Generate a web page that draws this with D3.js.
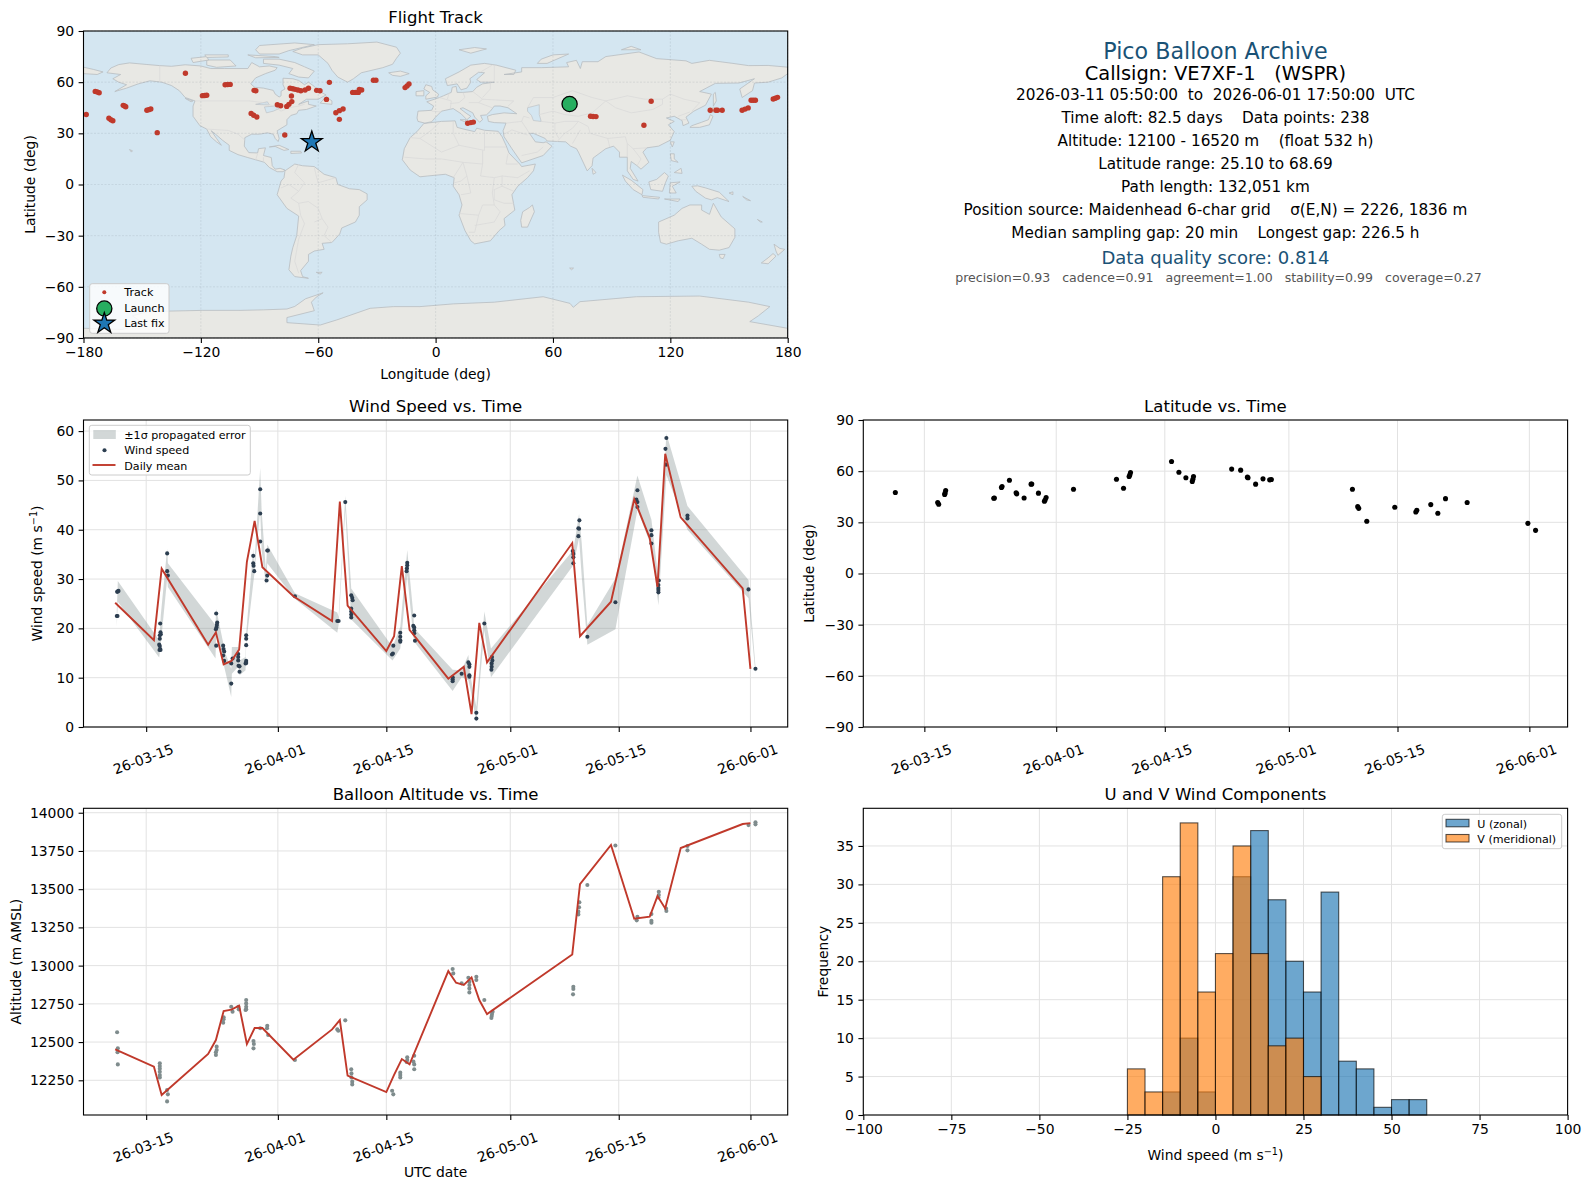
<!DOCTYPE html>
<html>
<head>
<meta charset="utf-8">
<title>Pico Balloon Archive</title>
<script src="https://cdn.jsdelivr.net/npm/d3@7"></script>
<style>
html, body { margin: 0; padding: 0; background: #fff; }
svg { display: block; }
text { font-family: "DejaVu Sans", sans-serif; fill: #000; }
</style>
</head>
<body>
<div id="chart"></div>
<script>
// ─── Data ─────────────────────────────────────────────────────
// All times are days relative to 2026-03-15 00:00 UTC

const trackLon = [-178.6,-174,-173,-172,-159.7,-159,-158.4,-167,-166,-165,-147.6,-146.6,-145.6,-142.3,-127.9,-119.2,-118,-117,-107.6,-106.3,-105,-92.8,-91.9,-94.3,-93,-91.4,-80.9,-79.2,-76.1,-75,-73.5,-73.7,-74.4,-73,-71.8,-70.4,-68.9,-66.7,-65,-60.8,-59.1,-54.3,-55.8,-51,-49.2,-47.3,-49.2,-77.1,-42.4,-41,-39.5,-37.8,-39,-31.8,-30.5,-15.6,-14.6,-13.6,16.4,18,19.3,79.2,80.5,82,106.5,110.2,140.4,143.3,144.1,146.5,156.7,158.2,159.8,161.3,162.4,163.5,172.6,173.7,174.8];
const trackLat = [41,54.6,54.2,53.8,46.4,46,45.6,38.8,38,37.4,43.5,43.9,44.3,30.4,65.2,52.1,52.2,52.3,58.5,58.6,58.7,55.2,55,41.7,40.6,39.6,46.8,46.2,45.8,47,48.6,51.9,56.4,56.1,55.8,55.4,55,55.4,56.4,55.2,55,59.9,49.9,42.1,43.3,44.3,38.2,29,54,54,54,55.4,55.8,61.1,61.1,56.8,57.8,58.9,35.9,36.3,36.6,40,39.9,39.8,34.7,48.8,43.5,43.5,43.5,43.5,43.5,44.2,44.9,49.4,49.4,49.4,50.1,50.6,51.1];
const launchLonLat = [68.5, 47.2];
const lastFixLonLat = [-63.3, 24.9];

const windDays = [-3.79,-3.7,-3.75,-3.66,-3.57,1.81,1.89,1.85,1.76,1.76,1.68,1.76,1.81,1.72,1.85,2.71,2.71,2.8,9.04,9.17,9.13,9.08,9,9.04,9.94,9.99,10.07,9.94,10.07,10.98,11.15,10.98,11.88,11.88,11.88,11.92,12.05,12.05,12.91,12.91,12.91,12.91,12.83,12.91,13.82,13.82,13.86,13.95,14.72,14.72,14.72,15.63,15.54,15.71,15.63,19.2,24.67,24.84,25.7,26.47,26.6,26.65,26.47,26.47,26.47,26.47,31.9,31.85,31.73,32.8,32.8,32.8,32.8,33.7,33.7,33.66,33.62,34.6,34.48,34.6,34.6,34.6,34.7,39.56,39.56,39.56,40.72,41.59,41.72,41.72,41.72,41.72,42.62,42.62,43.65,44.64,44.69,44.6,44.6,44.56,55.06,55.14,55.14,55.14,55.92,55.79,55.88,55.79,56.95,60.57,63.41,63.28,63.41,63.41,65.22,65.22,65.22,66.17,66.12,66.12,66.12,66.12,67.15,67.03,67.11,69.87,69.87,77.75,78.65];
const windSpeeds = [22.5,22.5,27.4,27.5,27.6,21,18.8,19.2,18.6,17.9,16.7,16.4,15.8,15.6,15.6,35.2,31.6,30.7,23,21.2,20.7,20.2,19.8,16.5,16.5,15.8,15.3,14.5,13.4,12.9,13.9,8.8,14.8,14.2,13.5,12.4,12.3,11.2,18.6,17.9,16.6,13.4,12.9,13,34.7,33.2,32.7,31.6,48.2,43.3,37.6,30.7,29.7,35.8,35.8,26.5,21.5,21.5,45.6,26.7,26.2,25.7,24,23.4,22.8,22.2,16.5,14.9,14.7,19.1,18.3,17.6,17.3,33.3,32.8,32.2,31.6,22.6,20.5,20.2,19.6,19,17.5,10.1,9.7,9.3,10.8,13.1,12.7,12.2,10.5,10.2,2.9,1.7,21,14.2,13.5,12.9,12.2,11.6,35.7,35.1,34.4,33.2,41.9,40.3,40.2,38.7,18.3,25.3,48,46.1,45.6,44.6,39.9,38.9,37.2,29.7,28.8,28.2,27.8,27.3,58.6,56.4,53.2,42.9,42.3,27.9,11.8];

const bandDays = [-3.79,-3.66,1.68,1.89,2.71,2.8,8.95,9.04,9.94,10.07,10.98,11.06,11.88,12.05,12.83,12.91,13.82,13.95,14.72,14.9,15.45,15.63,19.2,24.67,24.84,25.7,26.47,31.8,32.8,33.7,34.48,34.6,39.56,40.72,41.59,41.8,42.62,43.65,44.51,55.14,55.88,56.22,56.95,60.57,63.41,65.22,66.12,67.15,69.87,77.75,78.65];
const bandHigh = [23.7,29.6,17.6,22.7,36.2,33.2,20.7,24,17.1,15.6,11.8,16.2,16.2,13.5,14.2,19,36.2,32.5,52.5,44,31.8,37,27.1,23.2,22.3,46.9,28.1,16.2,20.3,35.9,23,20,11.6,11.5,14.6,10.8,4.1,23.4,15.9,35.9,43.2,37.3,20.7,30.1,51,42,30.1,59.5,44.8,29.8,12.2];
const bandLow = [20.4,25.4,14.1,16.9,30.1,28.4,13.9,19.3,13.9,12.2,6.1,10.8,12.2,10.5,11.5,16.9,29.1,30.8,44,35.9,28.8,33.2,26,19.1,20.7,44,21.8,13.5,15.9,30.8,18.3,17.3,7.3,10.1,9.5,8.1,1,19.6,10.1,32.8,38.3,30.5,16.7,19.8,44,36.6,24.7,51.1,40,26.1,10.8];

const dailyDays = [-4,1,2,8,9,10,11,12,13,14,15,19,24,25,26,31,32,33,34,39,40,41,42,43,44,55,56,60,63,65,66,67,69,77,78];
const dailyWind = [25.2,17.6,32.1,16.7,19.2,12.7,13.4,15.7,33.5,41.8,32.4,26.5,21.5,45.7,24.6,15.4,18.4,32.6,19.7,9.8,11,12.2,2.6,21.1,13.1,37.3,18.4,25.4,46.2,38.3,28.4,55.4,42.5,28.1,11.8];
const dailyAlt = [12452,12339,12154,12422,12513,12703,12712,12738,12487,12592,12592,12385,12583,12644,12280,12173,12285,12389,12354,12964,12888,12873,12923,12775,12683,13073,13533,13789,13307,13320,13455,13374,13769,13926,13932];

const altDays = [-3.75,-3.66,-3.7,-3.66,1.76,1.76,1.76,1.76,1.76,1.76,2.7,2.8,2.7,9.1,9.1,9,9,10,9.99,9.94,10.98,11.15,11.9,11.95,12.91,12.91,12.91,12.91,12.83,13.85,13.9,13.85,14.72,15.63,15.6,15.75,19.2,24.67,24.8,25.7,26.47,26.5,26.5,26.6,26.6,31.75,31.9,32.8,32.8,32.8,33.7,33.7,33.62,34.6,34.5,34.6,34.6,39.56,39.64,40.72,41.59,41.72,41.72,41.72,41.72,42.62,42.62,43.65,44.72,44.64,44.6,44.56,55.14,55.14,55.1,55.92,55.88,55.79,55.79,56.95,60.57,63.41,63.32,65.22,65.22,65.22,66.17,66.17,66.12,67.11,67.15,69.87,69.87,77.75,78.65,78.65];
const altValues = [12564,12459,12433,12354,12361,12343,12326,12306,12285,12269,12186,12158,12112,12470,12448,12433,12415,12662,12649,12627,12731,12699,12731,12714,12775,12753,12731,12714,12710,12507,12487,12459,12590,12607,12590,12546,12383,12583,12574,12642,12322,12295,12269,12241,12223,12182,12158,12300,12285,12269,12400,12383,12370,12411,12372,12354,12322,12978,12949,12884,12921,12895,12873,12851,12825,12927,12906,12775,12699,12683,12670,12657,12862,12847,12812,13414,13381,13353,13335,13527,13786,13320,13296,13337,13294,13281,13483,13462,13446,13374,13357,13782,13754,13919,13937,13924];

const latDays = [-3.74,1.72,1.85,2.67,2.75,2.62,9.03,8.95,10.02,9.94,10.97,11.91,11.83,12.86,13.85,13.76,14.71,15.7,15.57,15.48,19.23,24.77,25.68,26.58,26.49,26.4,31.87,32.82,33.72,34.7,34.62,34.54,39.62,40.78,41.73,41.65,42.71,43.66,44.52,44.74,55.19,55.87,56,57.04,60.65,63.49,63.36,65.29,66.2,67.19,69.98,77.81,78.8];
const latValues = [47.5,41.6,40.6,47.1,48.6,46.3,44.3,44.1,51,50.4,54.7,46.7,47.3,44.3,52.5,52.4,47.1,44.5,43.1,42.4,49.4,55.3,50,59.2,57.8,56.9,65.7,59.4,56.1,56.9,55.3,53.9,61.2,60.6,56.1,56.5,52.4,55.5,54.9,55.1,49.4,39.2,38.2,30.6,38.8,37.1,36.1,40.4,35.3,43.9,41.6,29.4,25.3];

const histStarts = d3.range(-100, 100, 5);
const histU = [0,0,0,0,0,0,0,0,0,0,0,0,0,0,0,0,0,3,10,3,0,31,37,28,20,16,29,7,6,1,2,2,0,0,0,0,0,0,0,0];
const histV = [0,0,0,0,0,0,0,0,0,0,0,0,0,0,0,6,3,31,38,16,21,35,21,9,10,5,0,0,0,0,0,0,0,0,0,0,0,0,0,0];

const timeTicks = ['2026-03-15','2026-04-01','2026-04-15','2026-05-01','2026-05-15','2026-06-01'];
const lonTicks = d3.range(-180, 181, 60);
const latTicks = d3.range(-90, 91, 30);
const windTicks = d3.range(0, 61, 10);
const altTicks = d3.range(12250, 14001, 250);
const histXTicks = d3.range(-100, 101, 25);
const histYTicks = d3.range(0, 36, 5);

const headerLines = [
    { text: 'Pico Balloon Archive', y: 58.5, size: 22.2, color: '#1a5276', dx: 0 },
    { text: 'Callsign: VE7XF-1   (WSPR)', y: 80, size: 19.45, color: '#000', dx: 0 },
    { text: '2026-03-11 05:50:00  to  2026-06-01 17:50:00  UTC', y: 100, size: 15.28, color: '#000', dx: 0 },
    { text: 'Time aloft: 82.5 days    Data points: 238', y: 123.2, size: 15.28, color: '#000', dx: 0 },
    { text: 'Altitude: 12100 - 16520 m    (float 532 h)', y: 146.2, size: 15.28, color: '#000', dx: 0 },
    { text: 'Latitude range: 25.10 to 68.69', y: 169.2, size: 15.28, color: '#000', dx: 0 },
    { text: 'Path length: 132,051 km', y: 192.2, size: 15.28, color: '#000', dx: 0 },
    { text: 'Position source: Maidenhead 6-char grid    σ(E,N) = 2226, 1836 m', y: 215.2, size: 15.28, color: '#000', dx: 0 },
    { text: 'Median sampling gap: 20 min    Longest gap: 226.5 h', y: 238.2, size: 15.28, color: '#000', dx: 0 },
    { text: 'Data quality score: 0.814', y: 263.5, size: 18.05, color: '#1a5276', dx: 0 },
    { text: 'precision=0.93   cadence=0.91   agreement=1.00   stability=0.99   coverage=0.27', y: 281.8, size: 12.55, color: '#555', dx: 3 }
];

// Coarse hand-read coastlines, [lon, lat]
const land = [
  // North America
  [[-168,65.5],[-166,68.3],[-162,70.3],[-156.5,71.3],[-148,70.4],[-141,69.7],[-135,69.3],[-128,70.2],[-120,69.5],[-115,68],[-108,68],[-102,68],[-96,68],[-94,71.5],[-90,69],[-85,69.5],[-81,68.5],[-82,67],[-87,65],[-92,62.5],[-94.5,59],[-92.5,57],[-88,56.5],[-83,55.2],[-82,53],[-80,51.3],[-79,52],[-79,54.7],[-77,56],[-78,58.5],[-78,62.3],[-73,62],[-70,61],[-67,58.5],[-65,60],[-62,57.5],[-60,55],[-56,52.5],[-60,50],[-66,50],[-70,47],[-65,49],[-65,47],[-61,46],[-66,44],[-70,43.5],[-71,41.5],[-74,40.5],[-76,38],[-76,35],[-81,31.5],[-80,27],[-80.5,25.2],[-82,27],[-83,29.5],[-86,30.3],[-90,29.5],[-94,29.5],[-97.5,27.5],[-97.8,22.5],[-95.5,18.7],[-91,18.5],[-90.5,21],[-87,21.5],[-88,17],[-84,15.8],[-83.5,11],[-82,9],[-79.5,9.5],[-77,8.5],[-78,7.5],[-81,7.5],[-85,10],[-87.5,13],[-92,14.5],[-96,15.8],[-101,17.5],[-105.5,20],[-105.5,23],[-109,26],[-112.5,29.5],[-114.7,31.5],[-112,27],[-109.5,23],[-112,25],[-115,28],[-117,32.5],[-120.5,34.5],[-124,40],[-124,46],[-123,49],[-128,51],[-131,55],[-135,58],[-140,60],[-146,60.8],[-152,59],[-158,56.5],[-164,54.5],[-158,58.5],[-162,60],[-165,62],[-161,64.5]],
  // Greenland
  [[-73,78],[-68,76],[-60,76],[-55,71],[-53,67],[-50,63],[-45,60],[-42,62],[-38,65.5],[-27,68.5],[-22,70.5],[-20,74],[-18,77],[-20,80.5],[-30,83.5],[-45,82.5],[-60,82],[-68,80]],
  // Canadian arctic
  [[-80,73.5],[-72,71.5],[-67,69],[-62,66.5],[-65,62.5],[-70,63],[-75,65],[-73,68],[-80,70],[-88,71],[-88,73.5]],
  [[-117,73],[-105,73],[-102,69.5],[-112,68.7],[-117,70]],
  [[-125,74],[-117,75],[-116,73],[-124,71.5]],
  [[-90,76.5],[-80,76.5],[-75,78.5],[-62,82],[-72,83],[-90,81.5],[-92,79]],
  [[-96,76],[-82,75],[-80,74.5],[-92,74.3]],
  [[-118,76],[-106,76],[-106,74.8],[-117,74.5]],
  [[-59,47.7],[-53,47],[-53,49],[-56,51.5],[-58,49]],
  // Caribbean, Hawaii
  [[-85,22],[-80,23],[-75,20.5],[-77.5,20],[-82,22.3]],
  [[-74,19.5],[-69,19.5],[-68.5,18.5],[-74,18.2]],
  [[-156.5,20.5],[-155,19.8],[-155.5,19]],
  [[-128,50.5],[-124,49],[-125,48.5]],
  // South America
  [[-77,8],[-72,12],[-68,11],[-62,10.5],[-57,6],[-51,4],[-50,0],[-44,-2.5],[-39,-3],[-35,-5.5],[-35,-9],[-39,-13],[-39,-18],[-41,-22],[-48,-25.5],[-49,-29],[-53,-34],[-58,-34.5],[-57,-38],[-62,-39],[-65,-41],[-65,-45],[-69,-50.5],[-68,-54],[-65,-55],[-72,-54],[-75,-50],[-74,-42],[-73,-37],[-71,-30],[-70,-18.5],[-76,-14],[-81,-6],[-80,-2],[-79,2],[-77.5,4]],
  [[-61,-51.5],[-58,-51.5],[-59,-52.5]],
  // Africa
  [[-6,35.8],[3,37],[10,37.3],[11,33.5],[15,32.3],[20,31],[21,33],[25,31.8],[32,31.2],[34,28],[36,23],[37.5,18.5],[43,12],[44,10.5],[51,12],[50,8],[47,4],[42,-1],[39,-6],[40.5,-15],[35,-20],[35.5,-24],[32.5,-27],[28,-33],[20,-34.8],[18,-33],[15,-27],[12,-18],[13.5,-12],[12,-6],[9,-1],[9.5,4],[5,6],[-4,5],[-8,4.5],[-13,8.5],[-17,14.5],[-16,21],[-13,27.5],[-9.5,31]],
  [[49.5,-12],[50.5,-16],[47,-25],[44,-25],[43.5,-21],[44.5,-16],[48,-13.5]],
  // Eurasia
  [[-9,37],[-9.5,39],[-9,43],[-2,43.5],[-1,46],[-4.5,48.5],[2,51],[4,52],[8,54],[8.5,57],[10.5,57.5],[11,54],[14,54],[19,54.5],[21,57],[24,59],[30,60],[23,60],[21,61.5],[25,65.5],[22,65.8],[17.5,62],[18,60],[16,56.5],[13,55.5],[11,59],[6,58],[5,62],[12,66],[18,70],[25,71],[31,70],[41,67],[40,64.5],[35,64.5],[44,66],[44,68.5],[54,68.5],[68,69],[67,71.5],[72,72.8],[74,68],[75,72],[83,72],[87,75],[104,77.7],[113,73.8],[128,72.5],[131,71],[140,72.8],[152,71],[160,69.7],[170,69.8],[180,68.8],[180,65],[177,62.5],[170,60],[163,59.5],[162,55],[156.7,51],[155.5,56],[163,62],[155,59.5],[143,59.3],[135,54.5],[141,53],[138,46.5],[132,43],[128,39.5],[129.5,36],[126.5,34.5],[126,37.5],[122,40],[118,39],[122,37],[119,35],[122,31],[120,26],[114,22.5],[108,21.5],[106,19],[109,13],[105,9],[103,11],[100,13.5],[99.5,9.5],[103.5,2],[101,3],[98,8],[98,16],[94,16],[94,19],[91,22.5],[87,21],[80.5,15.5],[80,11],[77.5,8],[73,19],[72,21],[69,22.5],[66.5,25],[57,25.5],[56,27],[50,30],[48,30],[51,25],[55,24.5],[56.5,25],[59.5,22.5],[55,17],[44,12.7],[39,21],[35,28],[34.5,31.5],[36,36],[30,36.3],[27,37],[26.5,40],[29,41],[35,42],[41.5,41.5],[37,45],[33,46],[30,46],[28,43],[26,40.8],[23,40.5],[24,38],[22.5,36.5],[20,39.5],[19,42],[14,45],[12.5,44.5],[16,41.5],[18,40],[16,38],[13,41.5],[9,44.5],[3,43],[0,39.5],[-2,36.8],[-5.5,36]],
  [[-180,68.8],[-175,67.5],[-170,66],[-173,64.5],[-180,65]],
  // Europe islands
  [[-5,50],[1,51.3],[1.5,53],[-1.5,55.5],[-2,57.5],[-5,58.5],[-6,56],[-3,54],[-5,52]],
  [[-10,52],[-6,52],[-6,55],[-10,54.5]],
  [[-24,65.5],[-18,66.5],[-13.5,65],[-18,63.4],[-22,64]],
  [[12,79],[20,80.3],[26,79.5],[18,77]],
  [[52,71],[57,71],[68,76.5],[60,76],[54,73.5]],
  [[95,79],[105,79],[100,81]],
  [[12.5,38],[15.5,38],[15,36.7]],
  // Asia islands
  [[130,33.5],[135,33.5],[140,35],[141.8,40],[140.5,41],[139.5,38],[136,36.5],[131,34.5]],
  [[140,42],[145,43.3],[142,45.5]],
  [[142,46],[143.5,49],[143,54],[142,53]],
  [[120,25],[122,25],[121,22]],
  [[80,9.5],[82,7],[80.5,6]],
  [[120,18],[122,18],[122,15],[124,13],[120.5,14]],
  [[122,7],[125.5,9.5],[126,6.5]],
  [[109,1.5],[113,3],[117,7],[119,5],[117.5,1],[116,-4],[110,-3]],
  [[95.5,5.5],[100,2.5],[106,-3],[105.5,-6],[101,-3],[97,2]],
  [[105.5,-6.5],[114.5,-7.5],[114,-8.5],[106,-7.5]],
  [[119.5,-5],[120,1],[125,1.5],[121,-1],[123,-5]],
  [[131,-1],[134,-0.8],[138,-2],[145,-4.5],[150,-10],[144,-7.7],[141,-9],[138,-8],[133,-4]],
  [[117,-8.5],[125,-8.5],[124,-10]],
  [[150,-5],[152,-4.3],[152,-6]],
  [[157,-7],[161,-9.5],[159,-9]],
  [[164.5,-20.5],[167,-22],[166,-22]],
  [[68.5,-49],[70.5,-49],[69.5,-50]],
  // Australia, New Zealand
  [[114,-22],[122,-18],[126,-14],[130,-12],[136,-12],[136,-15],[140,-17.5],[142,-11],[146,-19],[153,-26],[153,-31],[150,-37],[145,-38.5],[140,-38],[136,-35],[131,-31.5],[124,-33],[118,-35],[115,-34],[114,-28]],
  [[145,-41],[148,-41],[147,-43.5],[145.5,-43]],
  [[173,-35],[176,-37.5],[178.5,-38],[175,-41.5],[174,-39]],
  [[172.5,-40.5],[174,-42],[170,-46.5],[166.5,-46],[170,-43]],
  // Antarctica
  [[-180,-90],[-180,-84.3],[-160,-85],[-150,-81],[-155,-77],[-147,-74.5],[-119,-73.8],[-100,-73.8],[-88,-73.5],[-76,-73],[-72,-71.5],[-66.5,-67],[-57.5,-63.5],[-61,-66],[-63.5,-69],[-62,-74],[-76,-78],[-76,-81],[-59,-82.4],[-50.5,-79.4],[-33.5,-72.6],[-21.6,-71.6],[-8,-71.6],[9,-70],[30,-69],[55,-65.8],[68.7,-69.7],[70.4,-72],[73.8,-68.7],[102.7,-65.8],[135,-65.4],[160,-69],[170.9,-71.6],[165,-77],[160.6,-80.4],[179.9,-84.3],[180,-90]]
];
const lakes = [
  [[47,45],[53,46.8],[53,41],[54,37],[50,37.5],[49,40.5],[47,43]],
  [[-92,47],[-86,48.5],[-85,46.7],[-89,46.8]],
  [[-87.5,45.5],[-82,46],[-80,44.5],[-83,43],[-86.5,42]]
];
const borders = [
  [[-141,69.7],[-141,60]], [[-123,49],[-95,49],[-88,48],[-83,46],[-79,43],[-75,45],[-70,46],[-67,47]],
  [[-117,32.5],[-106,31.7],[-101,29.5],[-97.5,26]], [[-92,14.5],[-91,18]], [[-88,16],[-88,13]],
  [[-70,12],[-72,7],[-67,1],[-70,-4],[-74,-8],[-70,-11],[-69,-18]], [[-62,10],[-61,5],[-60,1],[-51,4]],
  [[-70,-11],[-65,-10],[-60,-14],[-58,-20],[-55,-25],[-57,-30],[-53,-34]], [[-69,-18],[-67,-23],[-70,-32],[-72,-45],[-70,-52]],
  [[-79,-2],[-75,0],[-70,-4]], [[-62,-22],[-58,-20]],
  [[-8,27],[-2,32],[2,36.5]], [[-13,27.5],[-8,27],[3,19],[12,23],[25,20],[25,31.5]], [[9,37],[9,30],[12,23]],
  [[25,22],[36,22]], [[-16,16],[-5,15],[3,15],[14,13],[24,12],[24,20]], [[9,4],[14,13]], [[14,13],[16,5],[13,2],[9.5,1]],
  [[24,12],[23,5],[30,4],[34,5],[42,4],[48,8]], [[34,5],[34,-1],[40,-4]], [[16,5],[18,-5],[13,-6]], [[30,4],[29,-5],[30,-12],[24,-12],[22,-18],[12,-17]],
  [[34,-1],[30,-3],[30,-9],[35,-11],[40,-11]], [[22,-18],[20,-28],[17,-28]], [[30,-12],[33,-16],[30,-22],[20,-24]], [[37,18],[36,12],[42,12]],
  [[-2,43],[3,42.5]], [[2,51],[8,49],[7.5,44]], [[7,54],[6,50]], [[14,54],[15,51],[12,48],[7.5,47.5]], [[19,54.5],[24,50],[22,48],[17,48]],
  [[28,60],[28,56],[24,51]], [[24,50],[40,49],[37,46]], [[30,70],[30,61]], [[23,66],[29,70]], [[22,48],[29,45]],
  [[36,36],[44,37],[48,30]], [[44,37],[45,40],[48,39]], [[39,32],[47,29]], [[35,29.5],[39,32]], [[44,17],[52,19],[55,22]],
  [[47,45],[50,51],[60,51],[70,55],[80,51],[87,49]], [[87,49],[98,52],[107,50],[116,50],[120,53],[127,50],[135,48],[131,43]],
  [[87,49],[92,45],[100,42],[111,44],[116,47],[116,50]], [[53,41],[60,43],[66,41],[73,40],[80,42],[87,49]], [[54,37],[61,36],[66,37],[73,37]],
  [[61,36],[61,31],[63,27]], [[73,37],[70,33],[66,30],[62,25]], [[73,37],[78,34],[79,30],[88,27],[97,28],[98,24],[101,21],[108,21.5]],
  [[70,24],[74,32]], [[88,27],[89,22]], [[98,24],[98,16]], [[101,21],[105,15],[103,11]], [[124,40],[130,42.5]], [[125,38],[128,38]]
];

// ─── Layout ───────────────────────────────────────────────────

const W = 1589, H = 1189;
const FRAMES = {
    map:  { x0: 83.5,  x1: 787.7,  y0: 31,    y1: 338 },
    wind: { x0: 83.5,  x1: 787.7,  y0: 420,   y1: 727 },
    lat:  { x0: 863.3, x1: 1567.6, y0: 420,   y1: 727 },
    alt:  { x0: 83.5,  x1: 787.7,  y0: 808.3, y1: 1115 },
    hist: { x0: 863.3, x1: 1567.6, y0: 808.3, y1: 1115 }
};
const DAY = 864e5;
const T0 = Date.UTC(2026, 2, 15);
const toDate = d => new Date(T0 + d * DAY);
const RED = '#c0392b', NAVY = '#2c3e50', GREY = '#7f8c8d';
const GRID = '#e2e2e2';

const svg = d3.select('#chart').append('svg').attr('width', W).attr('height', H);

function timeScale(f) {
    // the right column's tick sits a pixel or two off the left one's
    const range = f.x0 < 500 ? [-8.09, 82.81] : [-7.87, 82.93];
    return d3.scaleUtc().domain(range.map(toDate)).range([f.x0, f.x1]);
}

function drawAxes(f, xScale, yScale, xTicks, yTicks, opts) {
    const g = svg.append('g');
    const minus = s => String(s).replace('-', '\u2212');
    const xAxis = d3.axisBottom(xScale).tickValues(xTicks).tickSize(4.9).tickPadding(4.5)
        .tickFormat(opts.xFormat || minus);
    const yAxis = d3.axisLeft(yScale).tickValues(yTicks).tickSize(4.9).tickPadding(4.5).tickFormat(minus);
    const xg = g.append('g').attr('transform', `translate(0,${f.y1})`).call(xAxis);
    const yg = g.append('g').attr('transform', `translate(${f.x0},0)`).call(yAxis);
    xg.select('.domain').remove();
    yg.select('.domain').remove();
    g.selectAll('.tick line').attr('stroke', '#000').attr('stroke-width', 1.1);
    g.selectAll('.tick text').attr('font-size', 13.9).attr('font-family', '"DejaVu Sans", sans-serif').attr('fill', '#000');
    if (opts.rotate) {
        xg.selectAll('.tick text')
            .attr('text-anchor', 'middle').attr('dy', null).attr('y', 0)
            .attr('transform', 'translate(-3,33) rotate(-20)')
            .attr('dominant-baseline', 'middle');
    }
    g.append('rect').attr('x', f.x0).attr('y', f.y0).attr('width', f.x1 - f.x0).attr('height', f.y1 - f.y0)
        .attr('fill', 'none').attr('stroke', '#000').attr('stroke-width', 1.1);
}

function drawGrid(f, xScale, yScale, xTicks, yTicks, color, dash) {
    const g = svg.append('g').attr('stroke', color).attr('stroke-width', 1);
    if (dash) g.attr('stroke-dasharray', dash);
    g.selectAll('.vx').data(xTicks).join('line').attr('x1', d => xScale(d)).attr('x2', d => xScale(d))
        .attr('y1', f.y0).attr('y2', f.y1);
    g.selectAll('.hy').data(yTicks).join('line').attr('y1', d => yScale(d)).attr('y2', d => yScale(d))
        .attr('x1', f.x0).attr('x2', f.x1);
}

function title(f, text) {
    svg.append('text').attr('x', (f.x0 + f.x1) / 2).attr('y', f.y0 - 8)
        .attr('text-anchor', 'middle').attr('font-size', 16.55).text(text);
}

function xLabel(f, parts, y) {
    const t = svg.append('text').attr('x', (f.x0 + f.x1) / 2).attr('y', y)
        .attr('text-anchor', 'middle').attr('font-size', 13.9);
    addParts(t, parts);
}

function yLabel(f, parts, x) {
    const cy = (f.y0 + f.y1) / 2;
    const t = svg.append('text').attr('transform', `translate(${x},${cy}) rotate(-90)`)
        .attr('text-anchor', 'middle').attr('font-size', 13.9);
    addParts(t, parts);
}

function addParts(t, parts) {
    // parts: plain strings, or { sup } for a superscript
    parts.forEach((p, i) => {
        if (typeof p === 'string') {
            const ts = t.append('tspan').text(p);
            if (i > 0 && typeof parts[i - 1] !== 'string') ts.attr('dy', 5);
        } else {
            t.append('tspan').attr('dy', -5).attr('font-size', 9.7).text(p.sup);
        }
    });
}

function legendFrame(x0, y0, x1, y1) {
    svg.append('rect').attr('x', x0).attr('y', y0).attr('width', x1 - x0).attr('height', y1 - y0)
        .attr('rx', 2.5).attr('fill', '#fff').attr('fill-opacity', 0.8)
        .attr('stroke', '#ccc').attr('stroke-width', 1);
}

function legendText(x, y, text) {
    svg.append('text').attr('x', x).attr('y', y).attr('dy', '0.36em').attr('font-size', 11.1)
        .attr('fill', '#000').text(text);
}

// ─── Flight track map ─────────────────────────────────────────

function drawMap() {
    const f = FRAMES.map;
    const x = d3.scaleLinear().domain([-180, 180]).range([f.x0, f.x1]);
    const y = d3.scaleLinear().domain([-90, 90]).range([f.y1, f.y0]);
    const clipId = 'map-clip';
    svg.append('clipPath').attr('id', clipId).append('rect')
        .attr('x', f.x0).attr('y', f.y0).attr('width', f.x1 - f.x0).attr('height', f.y1 - f.y0);

    svg.append('rect').attr('x', f.x0).attr('y', f.y0).attr('width', f.x1 - f.x0).attr('height', f.y1 - f.y0)
        .attr('fill', '#d4e6f1');

    const line = d3.line().x(d => x(d[0])).y(d => y(d[1]));
    const g = svg.append('g').attr('clip-path', `url(#${clipId})`);
    g.selectAll('path.land').data(land).join('path').attr('class', 'land')
        .attr('d', d => line(d) + 'Z').attr('fill', '#e8e8e4').attr('stroke', '#b8bcc0').attr('stroke-width', 0.8);
    g.selectAll('path.lake').data(lakes).join('path').attr('class', 'lake')
        .attr('d', d => line(d) + 'Z').attr('fill', '#d4e6f1').attr('stroke', '#b8bcc0').attr('stroke-width', 0.6);
    g.selectAll('path.border').data(borders).join('path').attr('class', 'border')
        .attr('d', line).attr('fill', 'none').attr('stroke', '#d8d9d8').attr('stroke-width', 0.7);

    drawGrid(f, x, y, lonTicks, latTicks, 'rgba(120,130,140,0.16)', '2,1.5');

    g.selectAll('circle.track').data(trackLon).join('circle').attr('class', 'track')
        .attr('cx', d => x(d)).attr('cy', (d, i) => y(trackLat[i])).attr('r', 2.7).attr('fill', RED);

    svg.append('circle').attr('cx', x(launchLonLat[0])).attr('cy', y(launchLonLat[1])).attr('r', 7.6)
        .attr('fill', '#27ae60').attr('stroke', '#000').attr('stroke-width', 1.3);
    const star = d3.symbol().type(d3.symbolStar).size(135);
    svg.append('path').attr('d', star()).attr('transform', `translate(${x(lastFixLonLat[0])},${y(lastFixLonLat[1])})`)
        .attr('fill', '#1f77b4').attr('stroke', '#000').attr('stroke-width', 1.3);

    legendFrame(89.7, 283.7, 169, 333.3);
    svg.append('circle').attr('cx', 104.3).attr('cy', 292.3).attr('r', 2).attr('fill', RED);
    svg.append('circle').attr('cx', 104.3).attr('cy', 308.5).attr('r', 7.6)
        .attr('fill', '#27ae60').attr('stroke', '#000').attr('stroke-width', 1.3);
    svg.append('path').attr('d', star()).attr('transform', 'translate(104.3,323.5)')
        .attr('fill', '#1f77b4').attr('stroke', '#000').attr('stroke-width', 1.3);
    legendText(124.3, 292.3, 'Track');
    legendText(124.3, 308, 'Launch');
    legendText(124.3, 323, 'Last fix');

    drawAxes(f, x, y, lonTicks, latTicks, {});
    title(f, 'Flight Track');
    xLabel(f, ['Longitude (deg)'], 379);
    yLabel(f, ['Latitude (deg)'], 35);
}

// ─── Header text ──────────────────────────────────────────────

function drawHeader() {
    const cx = (FRAMES.lat.x0 + FRAMES.lat.x1) / 2;
    svg.selectAll('text.header').data(headerLines).join('text').attr('class', 'header')
        .attr('x', d => cx + d.dx).attr('y', d => d.y).attr('text-anchor', 'middle').attr('xml:space', 'preserve')
        .style('white-space', 'pre')
        .attr('font-size', d => d.size).style('fill', d => d.color).text(d => d.text);
}

// ─── Wind speed ───────────────────────────────────────────────

function drawWind() {
    const f = FRAMES.wind;
    const x = timeScale(f);
    const y = d3.scaleLinear().domain([0, 62.25]).range([f.y1, f.y0]);
    const dateTicks = timeTicks.map(s => new Date(s + 'T00:00:00Z'));
    const fmt = d3.utcFormat('%y-%m-%d');

    drawGrid(f, x, y, dateTicks, windTicks, GRID);

    const area = d3.area().x((d, i) => x(toDate(d))).y0((d, i) => y(bandLow[i])).y1((d, i) => y(bandHigh[i]));
    svg.append('path').attr('d', area(bandDays)).attr('fill', GREY).attr('fill-opacity', 0.35);

    svg.append('g').selectAll('circle').data(windDays).join('circle')
        .attr('cx', d => x(toDate(d))).attr('cy', (d, i) => y(windSpeeds[i])).attr('r', 2.05).attr('fill', NAVY);

    const line = d3.line().x(d => x(toDate(d))).y((d, i) => y(dailyWind[i]));
    svg.append('path').attr('d', line(dailyDays)).attr('fill', 'none').attr('stroke', RED).attr('stroke-width', 1.9);

    legendFrame(89.3, 425.3, 250.3, 475);
    svg.append('rect').attr('x', 93.3).attr('y', 430).attr('width', 22.5).attr('height', 9)
        .attr('fill', GREY).attr('fill-opacity', 0.35);
    svg.append('circle').attr('cx', 104.5).attr('cy', 450.3).attr('r', 2.05).attr('fill', NAVY);
    svg.append('line').attr('x1', 92.5).attr('x2', 115.5).attr('y1', 465).attr('y2', 465)
        .attr('stroke', RED).attr('stroke-width', 1.9);
    legendText(124.3, 435.3, '\u00b11\u03c3 propagated error');
    legendText(124.3, 450.3, 'Wind speed');
    legendText(124.3, 466, 'Daily mean');

    drawAxes(f, x, y, dateTicks, windTicks, { rotate: true, xFormat: fmt });
    title(f, 'Wind Speed vs. Time');
    yLabel(f, ['Wind speed (m s', { sup: '\u22121' }, ')'], 42);
}

// ─── Latitude ─────────────────────────────────────────────────

function drawLatitude() {
    const f = FRAMES.lat;
    const x = timeScale(f);
    const y = d3.scaleLinear().domain([-90, 90]).range([f.y1, f.y0]);
    const dateTicks = timeTicks.map(s => new Date(s + 'T00:00:00Z'));

    drawGrid(f, x, y, dateTicks, latTicks, GRID);

    svg.append('g').selectAll('circle').data(latDays).join('circle')
        .attr('cx', d => x(toDate(d))).attr('cy', (d, i) => y(latValues[i])).attr('r', 2.55).attr('fill', '#000');

    drawAxes(f, x, y, dateTicks, latTicks, { rotate: true, xFormat: d3.utcFormat('%y-%m-%d') });
    title(f, 'Latitude vs. Time');
    yLabel(f, ['Latitude (deg)'], 814);
}

// ─── Altitude ─────────────────────────────────────────────────

function drawAltitude() {
    const f = FRAMES.alt;
    const x = timeScale(f);
    const y = d3.scaleLinear().domain([12023, 14029]).range([f.y1, f.y0]);
    const dateTicks = timeTicks.map(s => new Date(s + 'T00:00:00Z'));

    drawGrid(f, x, y, dateTicks, altTicks, GRID);

    svg.append('g').selectAll('circle').data(altDays).join('circle')
        .attr('cx', d => x(toDate(d))).attr('cy', (d, i) => y(altValues[i])).attr('r', 2.05).attr('fill', GREY);

    const line = d3.line().x(d => x(toDate(d))).y((d, i) => y(dailyAlt[i]));
    svg.append('path').attr('d', line(dailyDays)).attr('fill', 'none').attr('stroke', RED).attr('stroke-width', 1.9);

    drawAxes(f, x, y, dateTicks, altTicks, { rotate: true, xFormat: d3.utcFormat('%y-%m-%d') });
    title(f, 'Balloon Altitude vs. Time');
    xLabel(f, ['UTC date'], 1177);
    yLabel(f, ['Altitude (m AMSL)'], 21);
}

// ─── Histogram ────────────────────────────────────────────────

function drawHistogram() {
    const f = FRAMES.hist;
    const x = d3.scaleLinear().domain([-100, 100]).range([f.x0, f.x1]);
    const y = d3.scaleLinear().domain([0, 39.9]).range([f.y1, f.y0]);

    drawGrid(f, x, y, histXTicks, histYTicks, GRID);

    const bars = (values, color) => svg.append('g').selectAll('rect').data(values).join('rect')
        .attr('x', (d, i) => x(histStarts[i])).attr('width', (d, i) => x(histStarts[i] + 5) - x(histStarts[i]))
        .attr('y', d => y(d)).attr('height', d => y(0) - y(d))
        .attr('fill', color).attr('fill-opacity', 0.65)
        .attr('stroke', '#000').attr('stroke-opacity', 0.65).attr('stroke-width', 1.1);
    bars(histU, '#1f77b4');
    bars(histV, '#ff7f0e');

    legendFrame(1442.3, 814.3, 1561.7, 848.7);
    [['#1f77b4', 819.3], ['#ff7f0e', 834.5]].forEach(([c, py]) => {
        svg.append('rect').attr('x', 1446).attr('y', py).attr('width', 23).attr('height', 7.5)
            .attr('fill', c).attr('fill-opacity', 0.65).attr('stroke', '#000').attr('stroke-opacity', 0.65).attr('stroke-width', 1.1);
    });
    legendText(1477.3, 824, 'U (zonal)');
    legendText(1477.3, 839, 'V (meridional)');

    drawAxes(f, x, y, histXTicks, histYTicks, {});
    title(f, 'U and V Wind Components');
    xLabel(f, ['Wind speed (m s', { sup: '\u22121' }, ')'], 1159.5);
    yLabel(f, ['Frequency'], 828);
}

drawMap();
drawHeader();
drawWind();
drawLatitude();
drawAltitude();
drawHistogram();
</script>
</body>
</html>
